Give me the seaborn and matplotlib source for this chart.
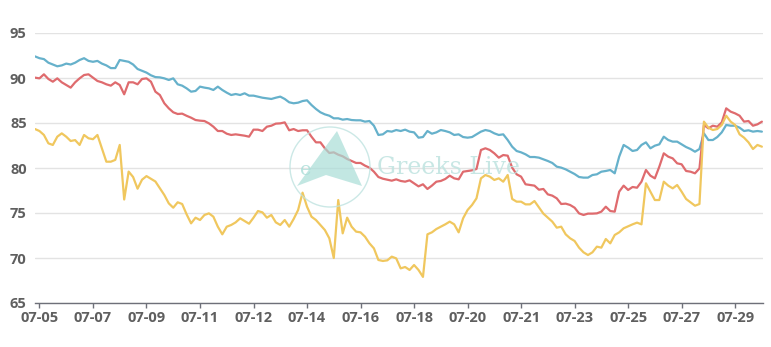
import numpy as np
import pandas as pd
import matplotlib
matplotlib.use("Agg")
import matplotlib.pyplot as plt
import matplotlib.patches as mpatches
import seaborn as sns

# ---------------- data (one sample every ~4 hours) ----------------
blue = [92.4, 92.2, 92.1, 91.7, 91.5, 91.3, 91.4, 91.6, 91.5, 91.7,
        92.0, 92.2, 91.9, 91.8, 91.9, 91.6, 91.4, 91.1, 91.1, 92.0,
        91.9, 91.8, 91.5, 91.0, 90.8, 90.6, 90.3, 90.1, 90.07, 89.96,
        89.78, 89.96, 89.3, 89.15, 88.85, 88.48, 88.56, 89.04, 88.93, 88.85,
        88.67, 89.04, 88.67, 88.37, 88.11, 88.22, 88.11, 88.3, 88.04, 88.04,
        87.93, 87.81, 87.74, 87.67, 87.81, 87.93, 87.67, 87.3, 87.19, 87.26,
        87.44, 87.52, 87.0, 86.56, 86.19, 85.96, 85.81, 85.52, 85.52, 85.37,
        85.44, 85.33, 85.3, 85.3, 85.15, 85.22, 84.7, 83.67, 83.74, 84.11,
        84.04, 84.22, 84.11, 84.26, 84.04, 83.96, 83.37, 83.44, 84.11, 83.81,
        83.96, 84.22, 84.11, 83.96, 83.67, 83.74, 83.44, 83.37, 83.44, 83.74,
        84.04, 84.22, 84.11, 83.85, 83.67, 83.74, 83.11, 82.37, 81.89, 81.74,
        81.52, 81.22, 81.22, 81.15, 80.96, 80.78, 80.56, 80.15, 80.04, 79.85,
        79.59, 79.33, 79.0, 78.93, 78.93, 79.22, 79.3, 79.59, 79.67, 79.78,
        79.41, 81.26, 82.56, 82.26, 81.89, 82.0, 82.56, 82.85, 82.19, 82.48,
        82.63, 83.48, 83.11, 82.93, 82.93, 82.63, 82.33, 82.11, 81.81, 82.11,
        83.85, 83.11, 83.11, 83.44, 83.96, 84.78, 84.7, 84.7, 84.48, 84.11,
        84.19, 84.04, 84.11, 84.04]

red = [90.04, 89.96, 90.41, 89.89, 89.59, 89.96, 89.52, 89.22, 88.93, 89.52,
       89.96, 90.33, 90.41, 90.04, 89.67, 89.52, 89.3, 89.15, 89.52, 89.22,
       88.19, 89.52, 89.52, 89.3, 89.89, 89.96, 89.59, 88.48, 88.11, 87.19,
       86.63, 86.19, 86.0, 86.04, 85.8, 85.59, 85.33, 85.26, 85.22, 84.96,
       84.59, 84.11, 84.11, 83.81, 83.67, 83.74, 83.67, 83.59, 83.48, 84.26,
       84.26, 84.11, 84.59, 84.7, 84.93, 84.96, 85.07, 84.19, 84.33, 84.11,
       84.19, 84.19, 83.48, 82.85, 82.85, 82.19, 81.67, 81.74, 81.48, 81.3,
       81.0, 80.78, 80.56, 80.56, 80.26, 80.04, 79.59, 79.0, 78.81, 78.7,
       78.59, 78.74, 78.56, 78.48, 78.63, 78.3, 77.96, 78.19, 77.67, 78.04,
       78.48, 78.56, 78.78, 79.15, 78.85, 78.74, 79.59, 79.67, 79.74, 79.89,
       82.0, 82.19, 82.0, 81.63, 81.15, 81.44, 81.37, 80.04, 79.3, 79.04,
       78.19, 78.11, 78.04, 77.59, 77.67, 77.07, 76.93, 76.63, 76.0, 76.04,
       75.89, 75.59, 74.96, 74.78, 74.93, 74.93, 74.96, 75.15, 75.7, 75.22,
       75.15, 77.37, 78.04, 77.56, 77.89, 77.81, 78.48, 79.78, 79.15, 78.85,
       80.15, 81.63, 81.26, 81.07, 80.52, 80.41, 79.67, 79.59, 79.41, 79.96,
       84.78, 84.41, 84.7, 84.59, 85.07, 86.63, 86.26, 86.07, 85.81, 85.15,
       85.22, 84.7, 84.85, 85.15]

yellow = [84.33, 84.11, 83.67, 82.74, 82.56, 83.48, 83.85, 83.48, 83.0, 83.1,
          82.56, 83.67, 83.3, 83.2, 83.67, 82.2, 80.7, 80.7, 80.9, 82.56,
          76.5, 79.6, 79.0, 77.7, 78.7, 79.1, 78.8, 78.5, 77.74, 77.0,
          76.07, 75.59, 76.19, 76.0, 74.85, 73.85, 74.48, 74.22, 74.78, 74.96,
          74.59, 73.48, 72.63, 73.48, 73.67, 73.96, 74.41, 74.11, 73.81, 74.48,
          75.22, 75.07, 74.48, 74.78, 73.96, 73.67, 74.22, 73.48, 74.33, 75.33,
          77.26, 75.7, 74.59, 74.22, 73.67, 73.11, 72.19, 70.0, 76.44, 72.74,
          74.48, 73.48, 72.93, 72.85, 72.37, 71.63, 71.07, 69.78, 69.67, 69.74,
          70.15, 69.96, 68.85, 69.0, 68.67, 69.22, 68.67, 67.9, 72.63, 72.85,
          73.22, 73.48, 73.74, 74.04, 73.74, 72.85, 74.41, 75.33, 75.89, 76.63,
          78.85, 79.22, 79.04, 78.67, 78.85, 78.48, 79.22, 76.56, 76.26, 76.26,
          75.96, 75.96, 76.33, 75.63, 74.93, 74.48, 74.04, 73.37, 73.48, 72.63,
          72.19, 71.89, 71.15, 70.63, 70.33, 70.63, 71.26, 71.15, 72.11, 71.63,
          72.56, 72.85, 73.3, 73.52, 73.74, 73.93, 73.74, 78.3, 77.37, 76.44,
          76.44, 78.48, 78.04, 77.74, 78.11, 77.37, 76.56, 76.19, 75.81, 76.0,
          85.15, 84.48, 84.22, 84.33, 84.78, 85.81, 85.15, 84.78, 83.74, 83.37,
          82.85, 82.11, 82.56, 82.37]

series_names = ["blue", "red", "yellow"]
series_colors = ["#66b1cb", "#df6b6e", "#f0c75e"]

tick_labels = ["07-05", "07-07", "07-09", "07-11", "07-12", "07-14", "07-16",
               "07-18", "07-20", "07-21", "07-23", "07-25", "07-27", "07-29"]
tick_first = 1
tick_step = 12

y_ticks = [65, 70, 75, 80, 85, 90, 95]

# ---------------- build long-form table ----------------
frames = []
for name, vals in zip(series_names, [blue, red, yellow]):
    frames.append(pd.DataFrame({"idx": np.arange(len(vals)), "value": vals, "series": name}))
df = pd.concat(frames, ignore_index=True)

sns.set_theme(style="white")
plt.rcParams["font.family"] = ["Open Sans", "DejaVu Sans"]

W, H = 771, 347
fig = plt.figure(figsize=(W / 100, H / 100), dpi=100)
ax = fig.add_axes([35 / W, 44 / H, (763 - 35) / W, (303 - 33) / H])

sns.lineplot(data=df, x="idx", y="value", hue="series",
             palette=dict(zip(series_names, series_colors)),
             linewidth=1.6, ax=ax, legend=False, estimator=None, sort=False)

n = len(blue)
ax.set_xlim(0, n - 1 + 0.25)
ax.set_ylim(65, 95)
ax.set_yticks(y_ticks)
ax.set_yticklabels([str(v) for v in y_ticks])
xt = [tick_first + tick_step * k for k in range(len(tick_labels))]
ax.set_xticks(xt)
ax.set_xticklabels(tick_labels)
ax.set_xlabel("")
ax.set_ylabel("")

ax.grid(axis="y", color="#e3e3e3", linewidth=1.0)
ax.grid(axis="x", visible=False)
ax.set_axisbelow(True)
for s in ["left", "right", "top"]:
    ax.spines[s].set_visible(False)
ax.spines["bottom"].set_color("#6e7079")
ax.spines["bottom"].set_linewidth(1.0)

ax.tick_params(axis="x", which="major", bottom=True, length=3.5, width=1.0,
               color="#6e7079", pad=2.5, labelsize=10.5, labelcolor="#5f5f5f")
ax.tick_params(axis="y", which="major", left=False, length=0, pad=6,
               labelsize=10.5, labelcolor="#5f5f5f")
for lab in ax.get_xticklabels() + ax.get_yticklabels():
    lab.set_fontweight("bold")

# ---------------- watermark ----------------
def fx(x):
    return x / W

def fy(y):
    return 1 - y / H

circ = mpatches.Ellipse((fx(330), fy(167)), 80 / W, 80 / H, transform=fig.transFigure,
                        fill=False, edgecolor="#bfe3e0", linewidth=1.0, alpha=0.8, zorder=5)
fig.add_artist(circ)
tri = mpatches.Polygon([(fx(337), fy(131)), (fx(297), fy(186)), (fx(326), fy(175)), (fx(362), fy(186))],
                       closed=True, transform=fig.transFigure, facecolor="#a9ddd7",
                       edgecolor="none", alpha=0.7, zorder=5)
fig.add_artist(tri)
fig.text(fx(300), fy(170), "e", color="#a9ddd7", fontsize=14, alpha=0.8,
         ha="left", va="center", family=["DejaVu Serif"], zorder=6)
fig.text(fx(377), fy(167), "Greeks Live", color="#bfe3e0", fontsize=17, alpha=0.85,
         ha="left", va="center", family=["DejaVu Serif"], zorder=6)

fig.savefig("out.png", dpi=100)
